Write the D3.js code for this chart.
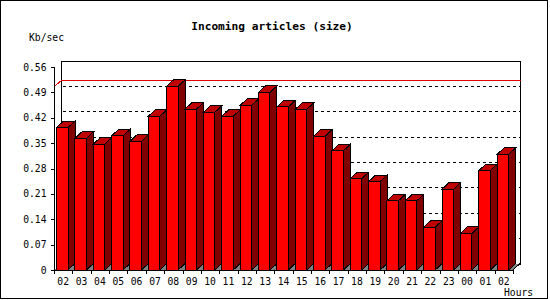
<!DOCTYPE html>
<html>
<head>
<meta charset="utf-8">
<script src="https://cdn.jsdelivr.net/npm/d3@7"></script>
<style>
  body { margin: 0; background: #fff; }
  svg { shape-rendering: crispEdges; }
  text { font-family: "DejaVu Sans Mono", "Liberation Mono", monospace; fill: #000; }
</style>
</head>
<body>
<div id="chart"></div>
<script>
// hours on the x axis (first and last are both "02")
var hours = ["02","03","04","05","06","07","08","09","10","11","12","13",
             "14","15","16","17","18","19","20","21","22","23","00","01","02"];
// Kb/sec per hour
var kbs = [0.393,0.363,0.347,0.370,0.355,0.424,0.507,0.444,0.435,0.424,0.454,0.490,
           0.450,0.443,0.369,0.329,0.252,0.244,0.191,0.191,0.118,0.223,0.101,0.274,0.319];
var yTicks = [0,0.07,0.14,0.21,0.28,0.35,0.42,0.49,0.56];

var W = 550, H = 300;
var dx = 7, dy = 6.5;   // 3d depth offset

var svg = d3.select("#chart").append("svg")
  .attr("width", W).attr("height", H);

svg.append("rect")
  .attr("x", 0.5).attr("y", 0.5).attr("width", 547).attr("height", 298)
  .attr("fill", "#fff").attr("stroke", "#000");

var idx = d3.range(hours.length);
var x = d3.scaleBand().domain(idx).range([54, 513]);
var y = d3.scaleLinear().domain([0, 0.56]).range([270, 67]);
function py(v) { return Math.round(v) + 0.5 }  // snap to pixel

var bw = 11.5, boff = 2.5;

// back wall
var g = svg.append("g");
g.append("path")
  .attr("d", "M" + py(54+dx) + "," + py(y(0)-dy) + "V" + py(y(0.56)-dy) + "H" + py(513+dx) + "V" + py(y(0)-dy))
  .attr("fill", "none").attr("stroke", "#000");

// dotted gridlines on back wall
g.selectAll(".grid")
  .data(yTicks.slice(1, -1))
  .enter().append("line")
    .attr("x1", 54 + dx + 2).attr("x2", 513 + dx)
    .attr("y1", function(d){ return py(y(d) - dy) })
    .attr("y2", function(d){ return py(y(d) - dy) })
    .attr("stroke", "#000").attr("stroke-dasharray", "3,3");

// max line in red
var mx = d3.max(kbs);
g.append("path")
  .attr("d", "M54," + py(y(mx)) + "L" + py(54+dx) + "," + py(y(mx)-dy) + "H" + py(513+dx))
  .attr("fill", "none").attr("stroke", "#e00000");

// floor
g.append("path")
  .attr("d", "M54,270H513L" + (513+dx) + "," + (270-dy) + "H" + (54+dx) + "Z")
  .attr("fill", "#808080").attr("stroke", "none");
g.append("line")
  .attr("x1", 513).attr("y1", 270).attr("x2", 513+dx).attr("y2", 270-dy)
  .attr("stroke", "#000");

// bars
var bars = g.selectAll(".bar")
  .data(idx)
  .enter().append("g");

bars.append("path")   // side
  .attr("d", function(i){
    var x0 = x(i) + boff + bw, yt = y(kbs[i]);
    return "M" + x0 + "," + yt + "L" + (x0+dx) + "," + (yt-dy) + "V" + (y(0)-dy) + "L" + x0 + "," + y(0) + "Z";
  })
  .attr("fill", "#800000").attr("stroke", "#000");

bars.append("path")   // top
  .attr("d", function(i){
    var x0 = x(i) + boff, yt = y(kbs[i]);
    return "M" + x0 + "," + yt + "L" + (x0+dx) + "," + (yt-dy) + "H" + (x0+bw+dx) + "L" + (x0+bw) + "," + yt + "Z";
  })
  .attr("fill", "#c00000").attr("stroke", "#000");

bars.append("rect")   // front
  .attr("x", function(i){ return x(i) + boff })
  .attr("y", function(i){ return y(kbs[i]) })
  .attr("width", bw)
  .attr("height", function(i){ return y(0) - y(kbs[i]) })
  .attr("fill", "#ff0000").attr("stroke", "#000");

// y axis
var yAxis = svg.append("g")
  .attr("transform", "translate(54.5,0)")
  .call(d3.axisLeft(y).tickValues(yTicks).tickSize(4).tickPadding(4)
    .tickFormat(function(d){ return d === 0 ? "0" : d3.format(".2f")(d) }));
yAxis.selectAll("text").attr("font-size", "9.7px")
  .attr("font-family", "DejaVu Sans Mono, monospace");
yAxis.select(".domain").attr("d", "M0," + y(0) + "V" + y(0.56)).attr("stroke", "#000");

// x axis
svg.append("line")
  .attr("x1", 54).attr("x2", 513).attr("y1", 270.5).attr("y2", 270.5)
  .attr("stroke", "#000");
svg.selectAll(".xt")
  .data(d3.range(hours.length + 1))
  .enter().append("line")
    .attr("x1", function(i){ return Math.round(54 + i * x.bandwidth()) + 0.5 })
    .attr("x2", function(i){ return Math.round(54 + i * x.bandwidth()) + 0.5 })
    .attr("y1", 270).attr("y2", 274)
    .attr("stroke", "#000");
svg.selectAll(".xl")
  .data(idx)
  .enter().append("text")
    .attr("x", function(i){ return x(i) + x.bandwidth() / 2 })
    .attr("y", 285)
    .attr("text-anchor", "middle")
    .attr("font-size", "9.7px")
    .text(function(i){ return hours[i] });

// titles
svg.append("text")
  .attr("x", 272).attr("y", 30)
  .attr("text-anchor", "middle")
  .attr("font-size", "11.2px").attr("font-weight", "bold")
  .text("Incoming articles (size)");
svg.append("text")
  .attr("x", 29).attr("y", 41)
  .attr("font-size", "9.7px")
  .text("Kb/sec");
svg.append("text")
  .attr("x", 504).attr("y", 296)
  .attr("font-size", "9.7px")
  .text("Hours");
</script>
</body>
</html>
